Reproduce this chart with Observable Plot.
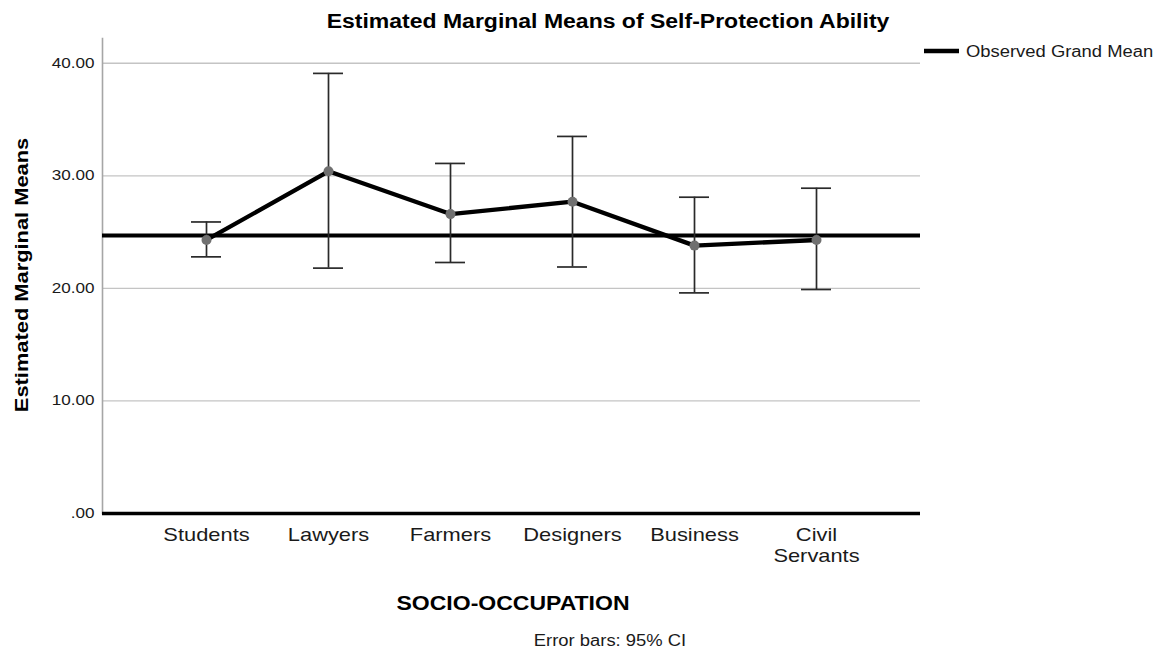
<!DOCTYPE html>
<html><head><meta charset="utf-8">
<script src="https://cdn.jsdelivr.net/npm/d3@7"></script>
<script src="https://cdn.jsdelivr.net/npm/@observablehq/plot@0.6"></script>
<style>
body{margin:0;background:#fff;}
#wrap{position:relative;width:1158px;height:652px;overflow:hidden;background:#fff;}
#wrap svg{position:absolute;left:0;top:0;}
</style></head><body><div id="wrap"></div>
<script>
const categories = ["Students","Lawyers","Farmers","Designers","Business","Civil Servants"];
const means = [24.3, 30.4, 26.6, 27.7, 23.8, 24.3];
const lower = [22.8, 21.8, 22.3, 21.9, 19.6, 19.9];
const upper = [25.9, 39.1, 31.1, 33.5, 28.1, 28.9];
const grandMean = 24.7;
const yTicks = [0, 10, 20, 30, 40];

const data = categories.map((c, i) => ({cat: c, mean: means[i], lo: lower[i], hi: upper[i]}));
const FONT = "'Liberation Sans', Arial, sans-serif";
const K = 1.15;
const capStyle = {x1: "cat", x2: "cat", insetLeft: -15, insetRight: -15, stroke: "#2a2a2a", strokeWidth: 1.7};

const chart = Plot.plot({
  width: 1158, height: 652,
  marginLeft: 102, marginRight: 238, marginTop: 38, marginBottom: 139,
  style: {fontFamily: FONT, background: "transparent", color: "#000"},
  x: {type: "point", domain: categories, padding: 0.83, axis: null},
  y: {domain: [0, 42.2], axis: null},
  marks: [
    Plot.ruleY(yTicks.filter(d => d > 0), {stroke: "#c4c4c4", strokeWidth: 1.3}),
    Plot.frame({anchor: "left", stroke: "#a6a6a6", strokeWidth: 1.6}),
    Plot.ruleY([0], {stroke: "#000", strokeWidth: 3.5}),
    Plot.ruleY([grandMean], {stroke: "#000", strokeWidth: 4}),
    Plot.ruleX(data, {x: "cat", y1: "lo", y2: "hi", stroke: "#2a2a2a", strokeWidth: 1.7}),
    Plot.ruleY(data, {...capStyle, y: "lo"}),
    Plot.ruleY(data, {...capStyle, y: "hi"}),
    Plot.line(data, {x: "cat", y: "mean", stroke: "#000", strokeWidth: 4.3}),
    Plot.dot(data, {x: "cat", y: "mean", r: 5, fill: "#707070", stroke: "none"}),
    Plot.axisY({ticks: yTicks, tickSize: 0, tickPadding: 8, fontSize: 14, fill: "#1a1a1a", label: null,
      tickFormat: d => d === 0 ? ".00" : d.toFixed(2)}),
    Plot.axisX({tickSize: 0, tickPadding: 13, fontSize: 19, fill: "#1a1a1a", lineHeight: 1.1, label: null,
      tickFormat: d => d.replace(" ", "\n")})
  ]
});
const wrap = document.getElementById("wrap");
wrap.appendChild(chart);

// overlay texts: title, axis titles, legend, caption
const ov = d3.select(wrap).append("svg").attr("width", 1158).attr("height", 652)
  .style("font-family", FONT).style("pointer-events", "none");
function txt(s, x, y, size, weight, anchor, rot) {
  const t = ov.append("text").text(s).attr("font-size", size).attr("font-weight", weight)
    .attr("text-anchor", anchor).attr("fill", "#000");
  if (rot) t.attr("transform", `translate(${x},${y}) rotate(${rot})`);
  else t.attr("x", x).attr("y", y);
  return t;
}
txt("Estimated Marginal Means of Self-Protection Ability", 608, 28, 20, "bold", "middle");
txt("Estimated Marginal Means", 28, 275, 19, "bold", "middle", -90);
txt("SOCIO-OCCUPATION", 513, 610, 20, "bold", "middle");
txt("Error bars: 95% CI", 610, 645.5, 16, "normal", "middle").attr("fill", "#1a1a1a");
// legend
ov.append("line").attr("x1", 924).attr("x2", 959).attr("y1", 51).attr("y2", 51)
  .attr("stroke", "#000").attr("stroke-width", 4.5);
txt("Observed Grand Mean", 966, 57, 16, "normal", "start").attr("fill", "#1a1a1a");

// SPSS-like wide glyphs
function stretch(root, k) {
  root.querySelectorAll("text").forEach(t => {
    const spans = t.querySelectorAll("tspan");
    const targets = spans.length ? Array.from(spans) : [t];
    targets.forEach(el => {
      const L = el.getComputedTextLength();
      if (L > 0) {
        el.setAttribute("textLength", (L * k).toFixed(1));
        el.setAttribute("lengthAdjust", "spacingAndGlyphs");
      }
    });
  });
}
const yAxisG = chart.querySelector('g[aria-label="y-axis tick label"]');
if (yAxisG) stretch(yAxisG, 1.22);
const xAxisG = chart.querySelector('g[aria-label="x-axis tick label"]');
if (xAxisG) stretch(xAxisG, K);
stretch(ov.node(), K);
</script></body></html>
